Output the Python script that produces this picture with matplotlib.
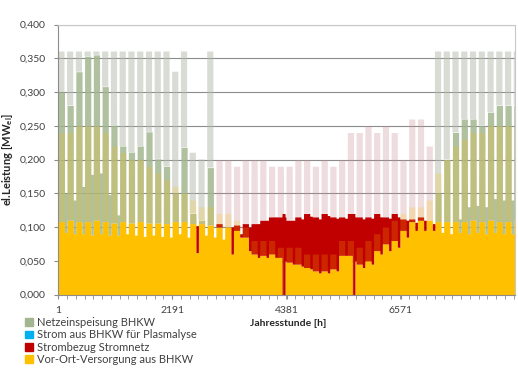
import numpy as np
import matplotlib
matplotlib.use("Agg")
import matplotlib.pyplot as plt
from matplotlib.patches import Patch

plt.rcParams['font.family'] = ['Lato', 'DejaVu Sans']

# Wochenwerte (53 Wochen), Werktag / Wochenende, in MW_el
vorort_wt = [0.108, 0.110, 0.108, 0.108, 0.110, 0.108, 0.106, 0.108, 0.106, 0.108,
             0.106, 0.106, 0.105, 0.108, 0.108, 0.105, 0.105, 0.103, 0.100, 0.100,
             0.095, 0.085, 0.060, 0.058, 0.060, 0.055, 0.048, 0.045, 0.040, 0.035,
             0.035, 0.038, 0.058, 0.058, 0.045, 0.050, 0.065, 0.075, 0.080, 0.095,
             0.108, 0.110, 0.110, 0.108, 0.108, 0.108, 0.108, 0.110, 0.108, 0.110,
             0.108, 0.108, 0.110]
vorort_we = [0.092, 0.090, 0.090, 0.088, 0.090, 0.088, 0.088, 0.090, 0.088, 0.086,
             0.088, 0.086, 0.085, 0.090, 0.085, 0.062, 0.088, 0.085, 0.082, 0.060,
             0.085, 0.065, 0.055, 0.055, 0.055, 0.050, 0.045, 0.042, 0.038, 0.032,
             0.032, 0.035, 0.058, 0.050, 0.040, 0.045, 0.060, 0.065, 0.070, 0.085,
             0.095, 0.095, 0.095, 0.092, 0.090, 0.092, 0.090, 0.092, 0.090, 0.092,
             0.090, 0.090, 0.110]
bezug_wt = [0] * 18 + [0.005, 0.000, 0.008, 0.020, 0.045, 0.052, 0.055, 0.060, 0.062, 0.070,
                       0.080, 0.080, 0.085, 0.077, 0.057, 0.062, 0.070, 0.065, 0.055, 0.040,
                       0.040, 0.017, 0.004, 0.005, 0.000] + [0] * 10
bezug_we = [0] * 15 + [0.040, 0.000, 0.000, 0.000, 0.040, 0.005, 0.035, 0.050, 0.055, 0.060,
                       0.065, 0.065, 0.070, 0.078, 0.080, 0.085, 0.078, 0.055, 0.065, 0.072,
                       0.068, 0.055, 0.048, 0.045, 0.025, 0.012, 0.015, 0.010] + [0] * 10
plasmalyse = [0] * 53
netz_wt = [0.192, 0.170, 0.222, 0.245, 0.245, 0.200, 0.145, 0.112, 0.105, 0.112,
           0.135, 0.095, 0.085, 0.042, 0.110, 0.015, 0.005, 0.085] + [0] * 25 + \
          [0.042, 0.092, 0.132, 0.152, 0.150, 0.142, 0.160, 0.172, 0.172, 0.170]
netz_we = [0.058, 0.050, 0.070, 0.090, 0.090, 0.060, 0.030] + [0] * 36 + \
          [0.000, 0.000, 0.020, 0.040, 0.040, 0.040, 0.050, 0.050, 0.050, 0.170]
# Spitzenwerte der Gesamtleistung an Werktagen (schwach sichtbar)
spitze_wt = [0.36] * 13 + [0.33, 0.36, 0.21, 0.20, 0.36, 0.20, 0.20, 0.19, 0.20, 0.20, 0.20,
                           0.19, 0.19, 0.19, 0.20, 0.20, 0.19, 0.20, 0.19, 0.20, 0.24, 0.24,
                           0.25, 0.24, 0.25, 0.24, 0.20, 0.26, 0.26, 0.22] + [0.36] * 10
vorort_spitze = [0.24, 0.24, 0.25, 0.25, 0.25, 0.24, 0.22, 0.21, 0.20, 0.20,
                 0.19, 0.18, 0.17, 0.16, 0.15, 0.14, 0.13, 0.13, 0.12, 0.12,
                 0.11, 0.10, 0.08, 0.08, 0.08, 0.07, 0.07, 0.07, 0.06, 0.06,
                 0.06, 0.06, 0.08, 0.08, 0.07, 0.08, 0.09, 0.10, 0.11, 0.12,
                 0.13, 0.13, 0.14, 0.18, 0.20, 0.22, 0.23, 0.24, 0.24, 0.25,
                 0.25, 0.25, 0.25]
wochenend_tage = [5, 6]
ausfall_start = [4290, 5640]   # BHKW-Ausfall [h]
ausfall_dauer = [60, 50]
ausfall_bezug = [0.120, 0.120]

x_ticks = [0, 2190, 4380, 6570]
x_ticklabels = ['1', '2191', '4381', '6571']
y_ticks = np.arange(0, 0.401, 0.05)

labels = ['Netzeinspeisung BHKW', 'Strom aus BHKW für Plasmalyse',
          'Strombezug Stromnetz', 'Vor-Ort-Versorgung aus BHKW']
farben = ['#a2b68f', '#00b0f0', '#c00000', '#ffc000']

# stündliche Reihen aus den Wochenwerten
h = np.arange(8760)
woche = h // 168
we = np.isin((h % 168) // 24, wochenend_tage)

def stunden(wt, wend):
    return np.where(we, np.array(wend)[woche], np.array(wt)[woche])

vorort = stunden(vorort_wt, vorort_we)
bezug = stunden(bezug_wt, bezug_we)
plasma = np.array(plasmalyse)[woche]
netz = stunden(netz_wt, netz_we)
for s, d, b in zip(ausfall_start, ausfall_dauer, ausfall_bezug):
    vorort[s:s + d] = 0
    bezug[s:s + d] = b

s1 = vorort
s2 = s1 + bezug
s3 = s2 + plasma
s4 = s3 + netz
spitze = np.where(we, s4, np.maximum(np.array(spitze_wt)[woche], s4))
v_spitze = np.where(we, s1, np.maximum(np.array(vorort_spitze)[woche], s1))

fig = plt.figure(figsize=(5.18, 3.79), dpi=100)
ax = fig.add_axes([58.3 / 518, 84.5 / 379, 456.7 / 518, 270 / 379])

ax.fill_between(h, 0, s1, color=farben[3], lw=0)
ax.fill_between(h, s1, s2, color=farben[2], lw=0)
ax.fill_between(h, s2, s3, color=farben[1], lw=0)
ax.fill_between(h, s3, s4, color=farben[0], lw=0, alpha=0.85)
# schwache Spitzen
hat_netz = np.array(netz_wt)[woche] > 0
ax.fill_between(h, s4, spitze, where=hat_netz, color='#b4bbad', lw=0, alpha=0.5)
ax.fill_between(h, s4, spitze, where=~hat_netz, color='#c98e96', lw=0, alpha=0.3)
ax.fill_between(h, s1, v_spitze, color=farben[3], lw=0, alpha=0.2)

ax.set_xlim(0, 8760)
ax.set_ylim(0, 0.4)
ax.set_axisbelow(True)
ax.yaxis.grid(True, color='#8c8c8c', lw=0.8)
ax.set_yticks(y_ticks)
ax.set_yticklabels([f'{v:.3f}'.replace('.', ',') for v in y_ticks])
ax.set_xticks(x_ticks)
ax.set_xticklabels(x_ticklabels)
ax.set_xticks(np.arange(0, 8761, 168), minor=True)
ax.tick_params(axis='both', which='both', length=3, color='#8c8c8c',
               labelsize=7.5, labelcolor='#404040')
ax.tick_params(axis='y', pad=6)
ax.tick_params(axis='x', pad=5)
for side in ['left', 'bottom']:
    ax.spines[side].set_color('#8c8c8c')
for side in ['top', 'right']:
    ax.spines[side].set_color('#c8c8c8')

fig.text(8 / 518, 0.579, 'el.Leistung [MW$_{\\mathregular{el}}$]', rotation=90,
         ha='center', va='center', fontsize=8, fontweight='bold', color='#262626')
fig.text(288 / 518, 1 - 324 / 379, 'Jahresstunde [h]', ha='center', va='center',
         fontsize=7.5, fontweight='bold', color='#262626')

handles = [Patch(color=c) for c in farben]
fig.legend(handles, labels, loc='upper left', bbox_to_anchor=(25 / 518, 1 - 317 / 379),
           frameon=False, fontsize=8, handlelength=0.7, handleheight=0.7,
           handletextpad=0.35, labelspacing=0.12, borderpad=0, borderaxespad=0,
           labelcolor='#404040')

fig.savefig('out.png', dpi=100)
